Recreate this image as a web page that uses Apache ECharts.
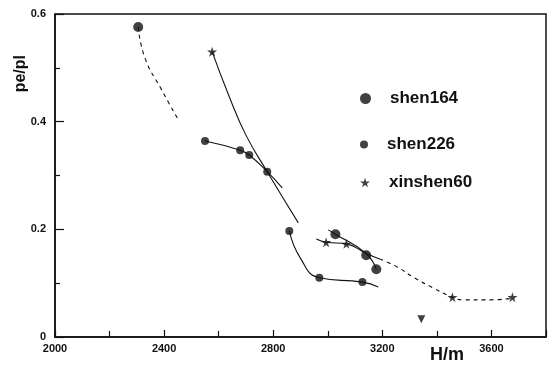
<!DOCTYPE html>
<html><head><meta charset="utf-8">
<script src="https://cdn.jsdelivr.net/npm/echarts@6/dist/echarts.min.js"></script>
<style>html,body{margin:0;padding:0;background:#fff}#c{width:553px;height:369px}</style>
</head><body><div id="c"></div>
<script>
// Marker points: [H (m), pe/pl]
const shen164Pts = [[2305,0.576],[3028,0.191],[3141,0.152],[3178,0.126]];
const shen226Pts = [[2550,0.364],[2679,0.347],[2712,0.338],[2778,0.307],[2859,0.197],[2969,0.110],[3127,0.102]];
const xinshen60Pts = [[2576,0.530],[2994,0.176],[3068,0.173],[3457,0.074],[3677,0.074]];
const otherPts = [[3343,0.033]];
// Trend curves
const curveA = [[2305,0.576],[2330,0.518],[2390,0.46],[2455,0.401]];        // dashed
const curveB = [[2576,0.530],[2640,0.445],[2700,0.375],[2778,0.307],[2892,0.212]];
const curveC = [[2550,0.364],[2679,0.347],[2712,0.338],[2778,0.307],[2833,0.277]];
const curveD = [[2859,0.197],[2899,0.147],[2969,0.110],[3127,0.102],[3185,0.093]];
const curveE1 = [[2958,0.182],[2994,0.176],[3068,0.173],[3141,0.155],[3190,0.145]];
const curveE2 = [[3190,0.145],[3255,0.130],[3314,0.111],[3387,0.091],[3457,0.074],[3497,0.069],[3596,0.069],[3677,0.072]]; // dashed
const curveF = [[3002,0.199],[3028,0.191],[3138,0.156],[3178,0.126]];
const xTicks = [2000,2400,2800,3200,3600];
const yTicks = [0,0.2,0.4,0.6];
const legendNames = ['shen164','shen226','xinshen60'];

const starPath = 'path://M50,0 L61,35 L98,35 L68,57 L79,91 L50,70 L21,91 L32,57 L2,35 L39,35 Z';
const font = '"Liberation Sans", Arial, sans-serif';

function curve(data, dashed){
  return {type:'line', data, smooth:true, showSymbol:false, symbol:'none', silent:true,
    lineStyle:{color:'#111', width:1.1, type: dashed ? [4,4] : 'solid'}, z:2};
}
function legendAt(name, top, icon, size){
  return {show:true, data:[{name, icon}], left:355, top, itemWidth:size, itemHeight:size,
    textStyle:{fontFamily:font, fontWeight:'bold', fontSize:17, color:'#111', padding:[0,0,0,14]},
    selectedMode:false};
}
const chart = echarts.init(document.getElementById('c'), null, {renderer:'canvas'});
chart.setOption({
  animation:false,
  backgroundColor:'#fff',
  grid:{left:55, right:7, top:14, bottom:32, show:true, borderColor:'#111', borderWidth:1.5, backgroundColor:'transparent'},
  legend:[
    legendAt(legendNames[0], 85, 'circle', 11),
    legendAt(legendNames[1], 131, 'circle', 8),
    legendAt(legendNames[2], 169, starPath, 10)
  ],
  xAxis:{type:'value', min:2000, max:3800, interval:400,
    axisLine:{lineStyle:{color:'#111', width:1.5}},
    axisTick:{inside:true, length:7, lineStyle:{color:'#111', width:1.2}},
    minorTick:{show:true, splitNumber:2, length:6, lineStyle:{color:'#111', width:1.2}},
    splitLine:{show:false},
    axisLabel:{margin:6, fontFamily:font, fontWeight:'bold', fontSize:11, color:'#111',
      formatter:v => xTicks.includes(v) ? String(v) : ''}
  },
  yAxis:{type:'value', min:0, max:0.6, interval:0.2,
    axisLine:{lineStyle:{color:'#111', width:1.5}},
    axisTick:{inside:true, length:9, lineStyle:{color:'#111', width:1.2}},
    minorTick:{show:true, splitNumber:2, length:5, lineStyle:{color:'#111', width:1.2}},
    splitLine:{show:false},
    axisLabel:{margin:9, fontFamily:font, fontWeight:'bold', fontSize:11, color:'#111',
      formatter:v => { const r = Math.round(v*10)/10; return yTicks.includes(r) ? (r===0?'0':r.toFixed(1)) : ''; }}
  },
  series:[
    curve(curveA, true), curve(curveB, false), curve(curveC, false), curve(curveD, false),
    curve(curveE1, false), curve(curveE2, true), curve(curveF, false),
    {name:legendNames[0], type:'scatter', data:shen164Pts, symbol:'circle', symbolSize:10, itemStyle:{color:'#111'}, z:5},
    {name:legendNames[1], type:'scatter', data:shen226Pts, symbol:'circle', symbolSize:8, itemStyle:{color:'#111'}, z:5},
    {name:legendNames[2], type:'scatter', data:xinshen60Pts, symbol:starPath, symbolSize:10, itemStyle:{color:'#111'}, z:5},
    {name:'other', type:'scatter', data:otherPts, symbol:'triangle', symbolRotate:180, symbolSize:8, itemStyle:{color:'#111'}, z:5}
  ],
  graphic:[
    {type:'text', left:13, top:55, rotation:Math.PI/2, style:{text:'pe/pl', font:'bold 16px '+font, fill:'#111'}},
    {type:'text', left:430, top:346, style:{text:'H/m', font:'bold 18px '+font, fill:'#111'}}
  ]
});
</script></body></html>
